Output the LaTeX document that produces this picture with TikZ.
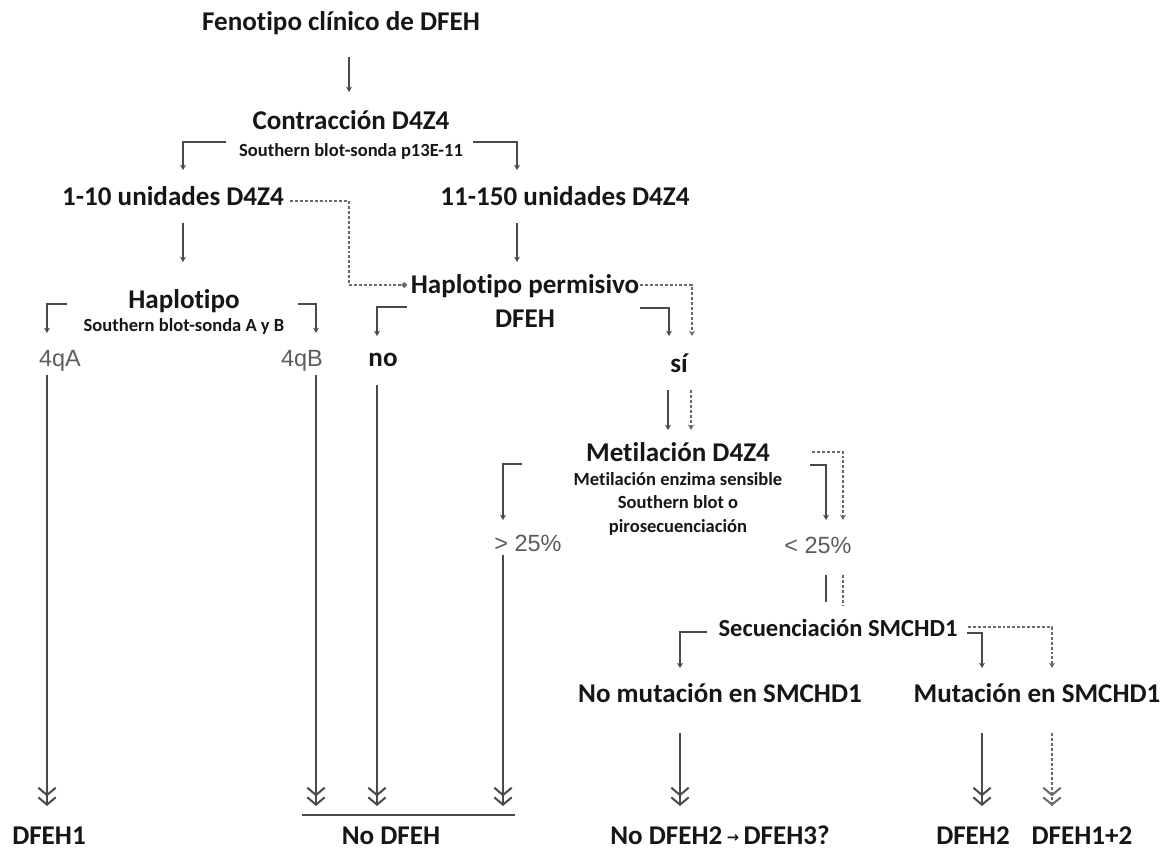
\documentclass[tikz,border=0pt]{standalone}
\usepackage{fontspec}
\setmainfont{Carlito}[Ligatures=NoCommon]
\newfontfamily\grayfont{Liberation Sans}
\newfontfamily\symfont{DejaVu Sans}
\usetikzlibrary{arrows.meta}

\definecolor{ink}{HTML}{161616}
\definecolor{linec}{HTML}{4A4A4A}
\definecolor{soft}{HTML}{5C5C5C}
\definecolor{dotc}{HTML}{6A6A6A}

\tikzset{
  head/.style={font=\bfseries\fontsize{20.3}{22}\selectfont, text=ink, inner sep=0pt, anchor=base},
  sub/.style={font=\bfseries\fontsize{13.9}{17.3}\selectfont, text=ink, inner sep=0pt, align=center, anchor=base},
  midhead/.style={font=\bfseries\fontsize{18.4}{20}\selectfont, text=ink, inner sep=0pt, anchor=base},
  pct/.style={font=\grayfont\fontsize{17.6}{19}\selectfont, text=soft, inner sep=0pt, anchor=base},
  link/.style={draw=linec, line width=1.4pt, -{Stealth[length=4pt,width=4.5pt]}},
  plain/.style={draw=linec, line width=1.4pt},
  dots/.style={draw=dotc, line width=1.6pt, dash pattern=on 2.2pt off 1.5pt},
  dotlink/.style={dots, -{Stealth[length=4pt,width=4.5pt]}},
  final/.style={draw=linec, line width=1.3pt,
    -{Straight Barb[length=5.5pt,width=13pt,line width=1.5pt] Straight Barb[length=5.5pt,width=13pt,line width=1.5pt]}},
  dotfinal/.style={dots,
    -{Straight Barb[length=5.5pt,width=13pt,line width=1.5pt] Straight Barb[length=5.5pt,width=13pt,line width=1.5pt]}},
}

\begin{document}
\begin{tikzpicture}[x=0.75pt, y=-0.75pt]
\useasboundingbox (0,0) rectangle (1170,852);

% ---- text ----
\node[head] (fen)   at (341,31)  {Fenotipo clínico de DFEH};
\node[head] (con)   at (351,130) {Contracción D4Z4};
\node[sub]  (conS)  at (351,157) {Southern blot-sonda p13E-11};
\node[head] (u1)    at (173,206) {1-10 unidades D4Z4};
\node[head] (u2)    at (565,206) {11-150 unidades D4Z4};
\node[head] (hap)   at (184,308) {Haplotipo};
\node[sub]  (hapS)  at (184,331) {Southern blot-sonda A y B};
\node[head] (perm)  at (525,293) {Haplotipo permisivo};
\node[head] (permD) at (525,327) {DFEH};
\node[pct]  (qa)    at (60,366)  {4qA};
\node[pct]  (qb)    at (302,366) {4qB};
\node[head] (no)    at (383,366) {no};
\node[head] (si)    at (679,372) {sí};
\node[head] (met)   at (678,461) {Metilación D4Z4};
% the base anchor of this three-line node sits on its last line
\node[sub]  (metS)  at (678,532) {Metilación enzima sensible\\Southern blot o\\pirosecuenciación};
\node[pct]  (gt)    at (528,551) {> 25\%};
\node[pct]  (lt)    at (818,553) {< 25\%};
\node[midhead] (sec) at (838,636) {Secuenciación SMCHD1};
\node[head] (nom)   at (720,702) {No mutación en SMCHD1};
\node[head] (mut)   at (1037,702) {Mutación en SMCHD1};
\node[head] (d1)    at (49,844)  {DFEH1};
\node[head] (nod)   at (391,844) {No DFEH};
\node[head] (nod2)  at (720,844) {No DFEH2\,{\symfont\fontsize{11}{11}\selectfont\raisebox{1.5pt}{→}}\,DFEH3?};
\node[head] (d2)    at (973,844) {DFEH2};
\node[head] (d12)   at (1082,844) {DFEH1+2};

% ---- bend points and free ends ----
\coordinate (fenA) at (349,57);   \coordinate (conA) at (349,92);
\coordinate (conL0) at (226,142); \coordinate (conL1) at (183,142); \coordinate (u1T) at (183,170);
\coordinate (conR0) at (473,142); \coordinate (conR1) at (517,142); \coordinate (u2T) at (517,170);
\coordinate (u1B) at (183,223);   \coordinate (hapT) at (183,262);
\coordinate (u2B) at (517,223);   \coordinate (permT) at (517,262);
\coordinate (dq0) at (290,201);   \coordinate (dq1) at (349,201); \coordinate (dq2) at (349,285); \coordinate (dq3) at (407,285);
\coordinate (hL0) at (67,304);    \coordinate (hL1) at (47,304);  \coordinate (qaT) at (47,333);
\coordinate (hR0) at (298,304);   \coordinate (hR1) at (316,304); \coordinate (qbT) at (316,333);
\coordinate (pL0) at (407,307);   \coordinate (pL1) at (377,307); \coordinate (noT) at (377,336);
\coordinate (pR0) at (640,308);   \coordinate (pR1) at (669,308); \coordinate (siT) at (669,336);
\coordinate (pD0) at (640,285);   \coordinate (pD1) at (692,285); \coordinate (siD) at (692,336);
\coordinate (siB) at (668,390);   \coordinate (metT) at (668,430);
\coordinate (siBd) at (691,390);  \coordinate (metTd) at (691,430);
\coordinate (mL0) at (522,464);   \coordinate (mL1) at (503,464); \coordinate (gtT) at (503,520);
\coordinate (mR0) at (810,465);   \coordinate (mR1) at (826,465); \coordinate (ltT) at (826,520);
\coordinate (mD0) at (812,452);   \coordinate (mD1) at (843,452); \coordinate (ltD) at (843,520);
\coordinate (qaB) at (47,375);    \coordinate (qaE) at (47,806);
\coordinate (qbB) at (316,375);   \coordinate (qbE) at (316,806);
\coordinate (noB) at (377,385);   \coordinate (noE) at (377,806);
\coordinate (gtB) at (503,555);   \coordinate (gtE) at (503,806);
\coordinate (barL) at (302,815);  \coordinate (barR) at (515,815);
\coordinate (ltB) at (826,575);   \coordinate (secT) at (826,602);
\coordinate (ltBd) at (843,575);  \coordinate (secTd) at (843,605);
\coordinate (sL0) at (707,632);   \coordinate (sL1) at (680,632); \coordinate (nomT) at (680,668);
\coordinate (sR0) at (967,633);   \coordinate (sR1) at (982,633); \coordinate (mutT) at (982,668);
\coordinate (sD0) at (968,627);   \coordinate (sD1) at (1052,627); \coordinate (mutD) at (1052,668);
\coordinate (nomB) at (680,733);  \coordinate (nomE) at (680,806);
\coordinate (mutB) at (982,733);  \coordinate (mutE) at (982,806);
\coordinate (mutBd) at (1052,733); \coordinate (mutEd) at (1052,806);

% ---- connectors ----
\draw[link] (fenA) -- (conA);
\draw[link] (conL0) -- (conL1) -- (u1T);
\draw[link] (conR0) -- (conR1) -- (u2T);
\draw[link] (u1B) -- (hapT);
\draw[link] (u2B) -- (permT);
\draw[dots, -{Circle[length=4pt]}] (dq0) -- (dq1) -- (dq2) -- (dq3);
\draw[link] (hL0) -- (hL1) -- (qaT);
\draw[link] (hR0) -- (hR1) -- (qbT);
\draw[link] (pL0) -- (pL1) -- (noT);
\draw[link] (pR0) -- (pR1) -- (siT);
\draw[dotlink] (pD0) -- (pD1) -- (siD);
\draw[link] (siB) -- (metT);
\draw[dotlink] (siBd) -- (metTd);
\draw[link] (mL0) -- (mL1) -- (gtT);
\draw[link] (mR0) -- (mR1) -- (ltT);
\draw[dotlink] (mD0) -- (mD1) -- (ltD);
\draw[final] (qaB) -- (qaE);
\draw[final] (qbB) -- (qbE);
\draw[final] (noB) -- (noE);
\draw[final] (gtB) -- (gtE);
\draw[plain] (barL) -- (barR);
\draw[plain] (ltB) -- (secT);
\draw[dots] (ltBd) -- (secTd);
\draw[link] (sL0) -- (sL1) -- (nomT);
\draw[link] (sR0) -- (sR1) -- (mutT);
\draw[dotlink] (sD0) -- (sD1) -- (mutD);
\draw[final] (nomB) -- (nomE);
\draw[final] (mutB) -- (mutE);
\draw[dotfinal] (mutBd) -- (mutEd);
\end{tikzpicture}
\end{document}
